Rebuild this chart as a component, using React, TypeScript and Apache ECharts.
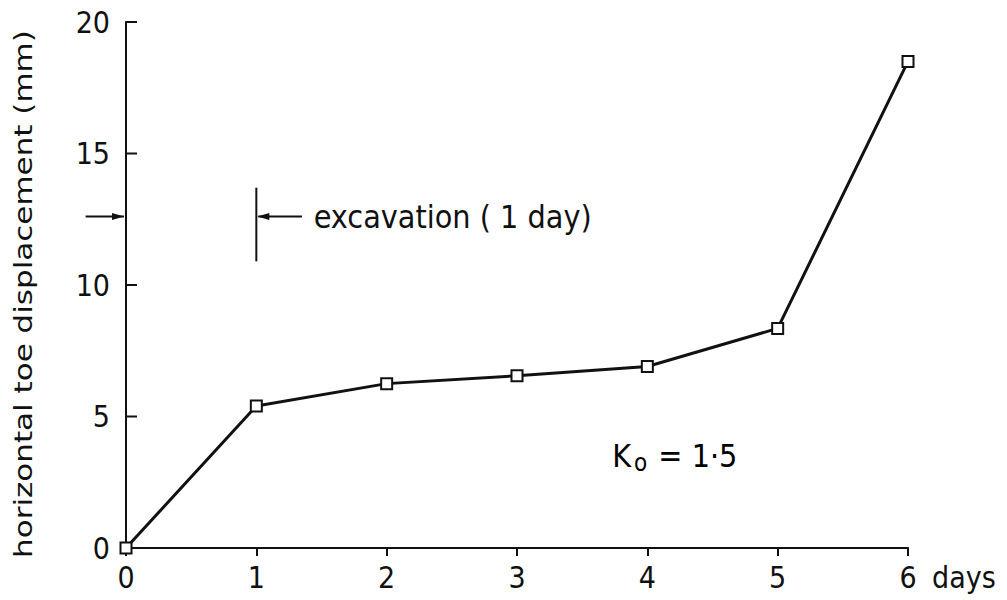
import React, { useEffect, useRef } from "react";
import * as echarts from "echarts";

// ---- data ----
const days = [0, 1, 2, 3, 4, 5, 6];
const displacement = [0, 5.4, 6.25, 6.55, 6.9, 8.35, 18.5];
const xMin = 0;
const xMax = 6;
const xStep = 1;
const yMin = 0;
const yMax = 20;
const yStep = 5;
const yTickValues = [5, 10, 15, 20];
const yTitle = "horizontal toe displacement (mm)";
const xUnit = "days";

// annotation (data coordinates)
const excavationLabel = "excavation ( 1 day)";
const excavationDay = 1;
const excavationLevel = 12.6;
const excavationBar = [10.9, 13.7];
const excavationArrowFrom = 1.35;
const excavationTextAt = 1.44;
const axisArrowFrom = -0.31;
const koPos = [3.73, 3.5];
const koMain = "K";
const koSub = "o";
const koRest = " = 1·5";

const FONT = "'DejaVu Sans Condensed', 'DejaVu Sans', sans-serif";
const INK = "#111";

const GRID = { left: 126, right: 99, top: 22, bottom: 52 };
const W = 1007;
const H = 600;

export default function App() {
  const ref = useRef<HTMLDivElement>(null);

  useEffect(() => {
    if (!ref.current) return;
    const chart = echarts.init(ref.current, undefined, { renderer: "svg" });
    const option: any = {
      animation: false,
      backgroundColor: "#fff",
      grid: { ...GRID, containLabel: false },
      xAxis: {
        type: "value",
        min: xMin,
        max: xMax,
        interval: xStep,
        axisLine: { show: true, onZero: false, lineStyle: { color: INK, width: 2 } },
        axisTick: { show: true, inside: false, length: 8, lineStyle: { color: INK, width: 2 } },
        axisLabel: { margin: 14, fontSize: 30, color: INK, fontFamily: FONT },
        splitLine: { show: false },
        name: xUnit,
        nameLocation: "end",
        nameGap: 24,
        nameTextStyle: {
          fontSize: 30,
          color: INK,
          fontFamily: FONT,
          verticalAlign: "top",
          padding: [14, 0, 0, 0],
        },
      },
      yAxis: {
        type: "value",
        min: yMin,
        max: yMax,
        interval: yStep,
        axisLine: { show: true, lineStyle: { color: INK, width: 2 } },
        axisTick: { show: false },
        axisLabel: { margin: 16, fontSize: 30, color: INK, fontFamily: FONT },
        splitLine: { show: false },
      },
      series: [
        {
          type: "line",
          data: days.map((d, i) => [d, displacement[i]]),
          symbol: "rect",
          symbolSize: 11,
          showSymbol: true,
          clip: false,
          lineStyle: { color: INK, width: 3 },
          itemStyle: { color: "#fff", borderColor: INK, borderWidth: 2 },
          z: 3,
        },
      ],
    };
    chart.setOption(option);

    const px = (x: number, y: number) =>
      chart.convertToPixel({ gridIndex: 0 }, [x, y]) as number[];

    const barTop = px(excavationDay, excavationBar[1]);
    const barBot = px(excavationDay, excavationBar[0]);
    const arrTip = px(excavationDay, excavationLevel);
    const arrTail = px(excavationArrowFrom, excavationLevel);
    const txt = px(excavationTextAt, excavationLevel);
    const axTip = px(xMin, excavationLevel);
    const axTail = px(axisArrowFrom, excavationLevel);
    const ko = px(koPos[0], koPos[1]);
    const yMid = (px(xMin, yMin)[1] + px(xMin, yMax)[1]) / 2;

    // y ticks pointing into the plot area
    const yTicks = yTickValues.map((v) => {
      const p = px(xMin, v);
      return {
        type: "line",
        shape: { x1: p[0], y1: p[1], x2: p[0] + 11, y2: p[1] },
        style: { stroke: INK, lineWidth: 2 },
      };
    });

    chart.setOption({
      graphic: [
        ...yTicks,
        {
          type: "text",
          x: 24,
          y: yMid + 9,
          rotation: Math.PI / 2,
          scaleX: 1.24,
          style: {
            text: yTitle,
            fontSize: 25,
            fontFamily: "'DejaVu Sans', sans-serif",
            fill: INK,
            align: "center",
            verticalAlign: "middle",
          },
        },
        {
          type: "line",
          shape: { x1: barTop[0], y1: barTop[1], x2: barBot[0], y2: barBot[1] },
          style: { stroke: INK, lineWidth: 2 },
        },
        {
          type: "line",
          shape: { x1: arrTip[0] + 2, y1: arrTip[1], x2: arrTail[0], y2: arrTail[1] },
          style: { stroke: INK, lineWidth: 2 },
        },
        {
          type: "polygon",
          shape: {
            points: [
              [arrTip[0] + 1, arrTip[1]],
              [arrTip[0] + 13, arrTip[1] - 3.5],
              [arrTip[0] + 13, arrTip[1] + 3.5],
            ],
          },
          style: { fill: INK },
        },
        {
          type: "text",
          x: txt[0],
          y: txt[1],
          style: {
            text: excavationLabel,
            fontSize: 32,
            fontFamily: FONT,
            fill: INK,
            verticalAlign: "middle",
            align: "left",
          },
        },
        {
          type: "line",
          shape: { x1: axTail[0], y1: axTail[1], x2: axTip[0] - 2, y2: axTip[1] },
          style: { stroke: INK, lineWidth: 2 },
        },
        {
          type: "polygon",
          shape: {
            points: [
              [axTip[0] - 2, axTip[1]],
              [axTip[0] - 14, axTip[1] - 3.5],
              [axTip[0] - 14, axTip[1] + 3.5],
            ],
          },
          style: { fill: INK },
        },
        {
          type: "text",
          x: ko[0],
          y: ko[1],
          style: {
            text: `{m|${koMain}}{s|${koSub}}{m|${koRest}}`,
            verticalAlign: "middle",
            align: "left",
            rich: {
              m: { fontSize: 32, lineHeight: 38, fontFamily: FONT, color: INK, verticalAlign: "middle" },
              s: {
                fontSize: 24,
                lineHeight: 22,
                fontFamily: FONT,
                color: INK,
                verticalAlign: "bottom",
                padding: [0, 2, 0, 3],
              },
            },
          },
        },
      ],
    });

    return () => chart.dispose();
  }, []);

  return (
    <div
      ref={ref}
      style={{ position: "fixed", left: 0, top: 0, width: W, height: H, background: "#fff" }}
    />
  );
}
